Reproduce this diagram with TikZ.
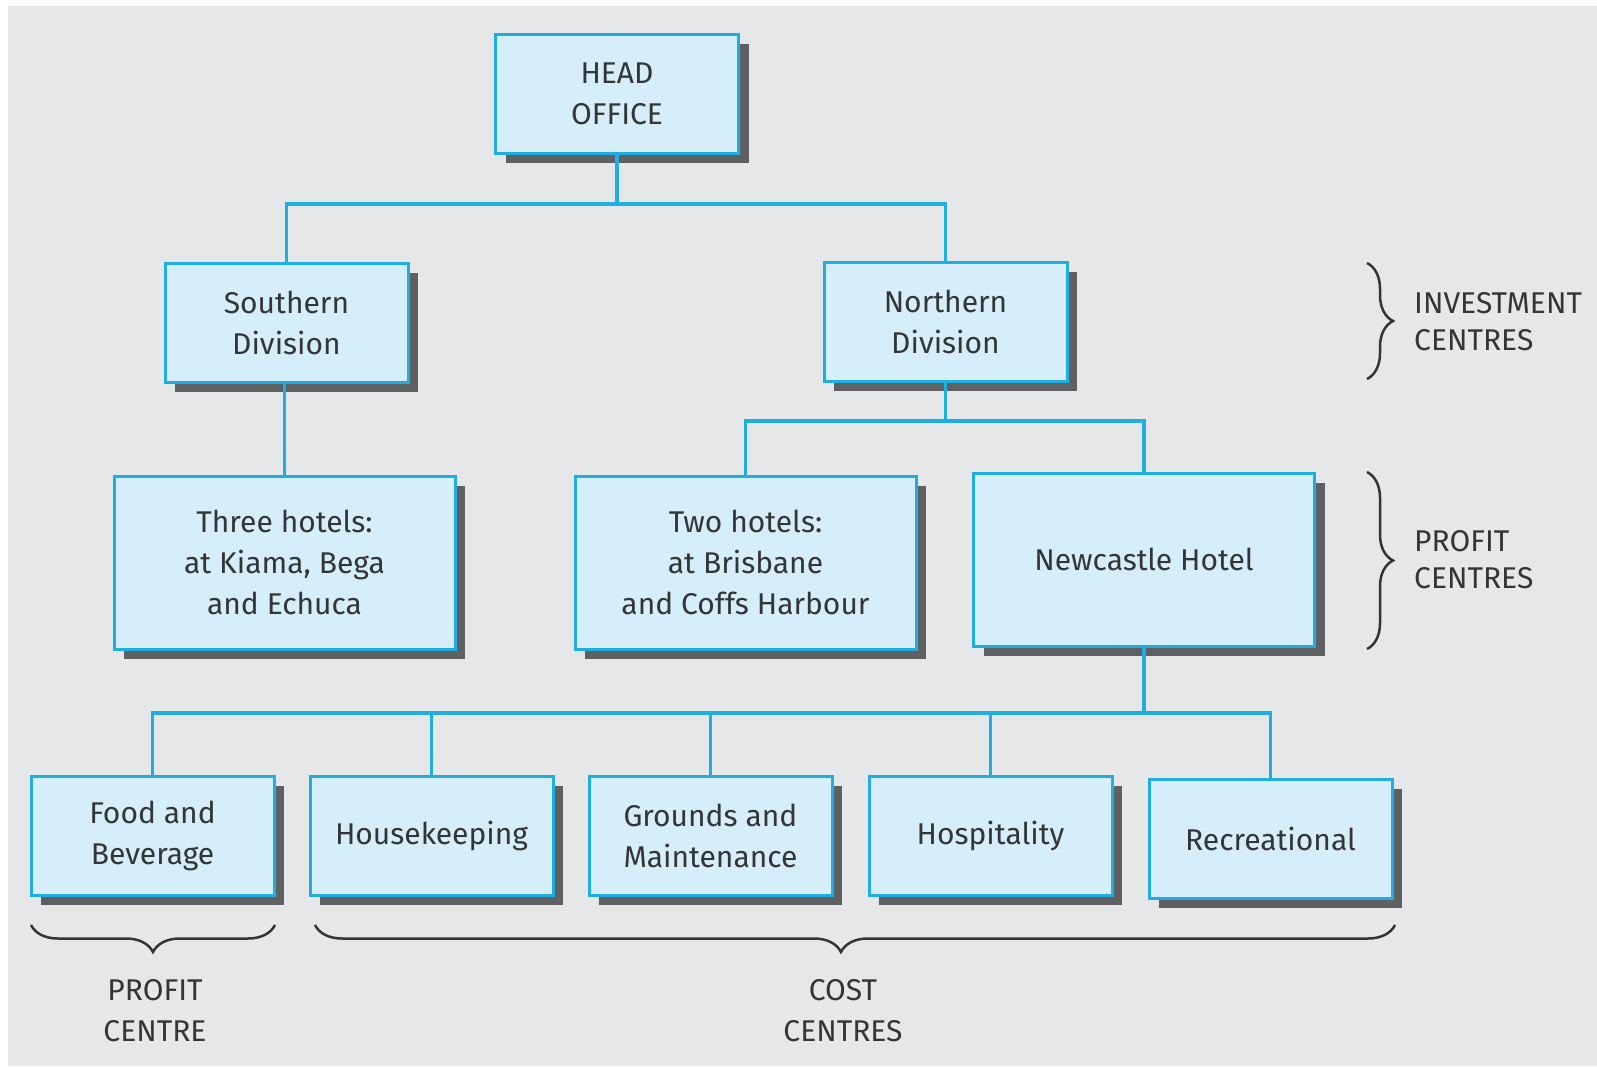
\documentclass[tikz,border=0pt]{standalone}
\usepackage{fontspec}
\setmainfont{Fira Sans}
\usetikzlibrary{shadows,decorations.pathreplacing}
\definecolor{bgc}{HTML}{E6E7E8}
\definecolor{boxfill}{HTML}{D5EEFA}
\definecolor{boxline}{HTML}{1EAEE4}
\definecolor{shade}{HTML}{5F6062}
\definecolor{txt}{HTML}{333537}
\tikzset{
  orgbox/.style={draw=boxline, line width=3pt, fill=boxfill, text=txt,
    align=center, inner sep=0pt,
    font=\fontsize{30}{41}\selectfont,
    drop shadow={shadow xshift=10pt, shadow yshift=-10pt, fill=shade, opacity=1}},
  small/.style={orgbox, minimum width=243pt, minimum height=119pt},
  big/.style={orgbox, minimum width=341pt, minimum height=173pt},
  link/.style={draw=boxline, line width=3.5pt},
  brc/.style={draw=txt, line width=2.5pt, decorate},
  lbl/.style={text=txt, font=\fontsize{30}{37}\selectfont, inner sep=0pt}
}
\begin{document}
\begin{tikzpicture}[x=1pt,y=-1pt]
\useasboundingbox (0,0) rectangle (1597,1066);
\fill[white] (0,0) rectangle (1597,1066);
\fill[bgc] (8,6) rectangle (1597,1066);

\node[small] (head) at (617,93.5) {HEAD\\OFFICE};
\node[small] (south) at (286.5,322.5) {Southern\\Division};
\node[small] (north) at (945.5,321.5) {Northern\\Division};
\node[big] (three) at (284.5,562.5) {Three hotels:\\at Kiama, Bega\\and Echuca};
\node[big] (two) at (745.5,562.5) {Two hotels:\\at Brisbane\\and Coffs Harbour};
\node[big] (newc) at (1144,559.5) {Newcastle Hotel};
\node[small] (food) at (152.5,835.5) {Food and\\Beverage};
\node[small] (house) at (431.5,835.5) {Housekeeping};
\node[small] (grounds) at (710.5,835.5) {Grounds and\\Maintenance};
\node[small] (hosp) at (990.5,835.5) {Hospitality};
\node[small] (recr) at (1270.5,838.5) {Recreational};

\coordinate (b1) at (617,204);
\coordinate (b2) at (945.5,421);
\coordinate (b3) at (1144,713);

\draw[link] (head.south) -- (b1);
\draw[link] (b1) -| (south.north);
\draw[link] (b1) -| (north.north);
\draw[link] (three.north) -- (three.north |- south.south);
\draw[link] (north.south) -- (b2);
\draw[link] (b2) -| (two.north);
\draw[link] (b2) -| (newc.north);
\draw[link] (newc.south) -- (b3);
\foreach \n in {food,house,grounds,hosp,recr}
  \draw[link] (b3) -| (\n.north);

\coordinate (ib1) at (1367,263);
\coordinate (ib2) at (1367,379);
\draw[brc, decoration={brace, amplitude=26pt}] (ib1) -- (ib2);
\coordinate (pb1) at (1367,472);
\coordinate (pb2) at (1367,649);
\draw[brc, decoration={brace, amplitude=26pt}] (pb1) -- (pb2);
\coordinate (fb1) at (31,925);
\coordinate (fb2) at (275,925);
\draw[brc, decoration={brace, mirror, amplitude=27pt}] (fb1) -- (fb2);
\coordinate (cb1) at (315,925);
\coordinate (cb2) at (1395,925);
\draw[brc, decoration={brace, mirror, amplitude=27pt, aspect=0.487}] (cb1) -- (cb2);

\node[lbl, anchor=west, align=left] (inv) at (1414,322) {INVESTMENT\\CENTRES};
\node[lbl, anchor=west, align=left] (prof) at (1414,560) {PROFIT\\CENTRES};
\node[lbl, align=center, font=\fontsize{30}{41}\selectfont] (pc) at (155,1011) {PROFIT\\CENTRE};
\node[lbl, align=center, font=\fontsize{30}{41}\selectfont] (cc) at (843,1011) {COST\\CENTRES};
\end{tikzpicture}
\end{document}
